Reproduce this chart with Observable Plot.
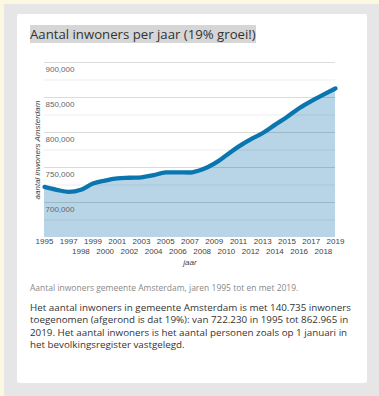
<!DOCTYPE html>
<html>
<head>
<meta charset="utf-8">
<script src="https://cdn.jsdelivr.net/npm/d3@7"></script>
<script src="https://cdn.jsdelivr.net/npm/@observablehq/plot@0.6"></script>
<style>
  html, body { margin: 0; padding: 0; }
  body { width: 379px; height: 396px; overflow: hidden; background: #e6e6e6; position: relative; font-family: "Open Sans", "Noto Sans", sans-serif; }
  #edge { position: absolute; left: 0; top: 0; width: 379px; height: 396px; box-sizing: border-box; border-left: 4px solid #fbf8e2; border-top: 4px solid #fbf8e2; }
  #card { position: absolute; left: 17px; top: 14px; width: 350px; height: 369px; background: #fff; border-radius: 2px; }
  #title { position: absolute; left: 30px; top: 25px; font-size: 13.2px; line-height: 18px; color: #333; background: #d6d6d6; white-space: nowrap; }
  #chart { position: absolute; left: 20px; top: 55px; }
  #caption { position: absolute; left: 30px; top: 282px; font-size: 8.5px; color: #8a8a8a; white-space: nowrap; }
  #text { position: absolute; left: 30px; top: 302px; font-size: 9.8px; line-height: 12.4px; color: #333; white-space: nowrap; }
</style>
</head>
<body>
<div id="edge"></div>
<div id="card"></div>
<div id="title">Aantal inwoners per jaar (19% groei!)</div>
<div id="chart"></div>
<div id="caption">Aantal inwoners gemeente Amsterdam, jaren 1995 tot en met 2019.</div>
<div id="text">Het aantal inwoners in gemeente Amsterdam is met 140.735 inwoners<br>toegenomen (afgerond is dat 19%): van 722.230 in 1995 tot 862.965 in<br>2019. Het aantal inwoners is het aantal personen zoals op 1 januari in<br>het bevolkingsregister vastgelegd.</div>
<script>
const years = [1995, 1996, 1997, 1998, 1999, 2000, 2001, 2002, 2003, 2004, 2005, 2006, 2007, 2008, 2009, 2010, 2011, 2012, 2013, 2014, 2015, 2016, 2017, 2018, 2019];
const population = [722230, 718119, 715148, 718151, 727053, 731288, 734540, 735328, 736045, 739104, 742951, 743104, 742884, 747093, 755605, 767457, 779808, 790110, 799278, 810937, 822272, 834713, 844947, 854047, 862965];
const xTicksRow1 = [1995, 1997, 1999, 2001, 2003, 2005, 2007, 2009, 2011, 2013, 2015, 2017, 2019];
const xTicksRow2 = [1998, 2000, 2002, 2004, 2006, 2008, 2010, 2012, 2014, 2016, 2018];
const yTickLabels = [700000, 750000, 800000, 850000, 900000];
const gridMajor = [700000, 750000, 800000, 850000, 900000];
const gridMinor = [675000, 725000, 775000, 825000, 875000];
const yBase = 650000;
const xLabel = "jaar";
const yLabel = "aantal inwoners Amsterdam";

const data = years.map((year, i) => ({year, pop: population[i]}));
const fmt = d3.format(",");

const chart = Plot.plot({
  width: 340,
  height: 220,
  marginLeft: 24,
  marginRight: 25,
  marginTop: 7,
  marginBottom: 38,
  x: {domain: [1995, 2019], axis: null},
  y: {domain: [yBase, 900000], axis: null},
  style: {fontFamily: "'Liberation Sans', Arial, sans-serif", fontSize: "8px", background: "transparent", color: "#444"},
  marks: [
    Plot.areaY(data, {x: "year", y1: () => yBase, y2: "pop", fill: "#b8d5e8", curve: "monotone-x"}),
    Plot.ruleY(gridMinor, {stroke: "#000", strokeOpacity: 0.07}),
    Plot.ruleY(gridMajor, {stroke: "#000", strokeOpacity: 0.14}),
    Plot.lineY(data, {x: "year", y: "pop", stroke: "#0a76b0", strokeWidth: 4.3, curve: "monotone-x"}),
    Plot.text(yTickLabels, {y: d => d, text: d => fmt(d), frameAnchor: "left", textAnchor: "start", dx: 1, dy: 6.5, fill: "#666"}),
    Plot.text(xTicksRow1, {x: d => d, text: d => String(d), frameAnchor: "bottom", dy: 6.5, fill: "#444"}),
    Plot.text(xTicksRow2, {x: d => d, text: d => String(d), frameAnchor: "bottom", dy: 16.5, fill: "#444"}),
    Plot.text([xLabel], {frameAnchor: "bottom", dy: 27.5, fontStyle: "italic", fill: "#444"}),
    Plot.text([yLabel], {frameAnchor: "left", textAnchor: "middle", dx: -7, rotate: -90, fontStyle: "italic", fill: "#444"})
  ]
});
document.getElementById("chart").appendChild(chart);
</script>
</body>
</html>
